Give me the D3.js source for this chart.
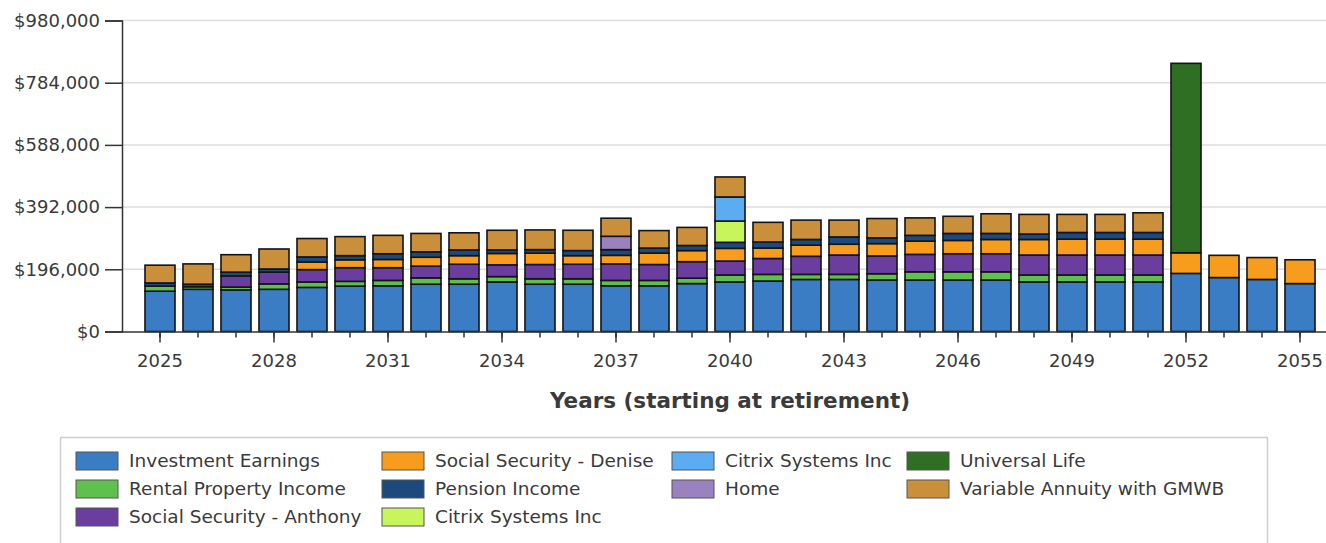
<!DOCTYPE html>
<html>
<head>
<meta charset="utf-8">
<script src="https://cdn.jsdelivr.net/npm/d3@7"></script>
<style>
  html, body { margin: 0; padding: 0; background: #fff; }
  svg { display: block; }
  text { font-family: "DejaVu Sans", "Open Sans", sans-serif; }
</style>
</head>
<body>
<svg id="chart" width="1326" height="543"></svg>
<script>
const years = d3.range(2025, 2056);
const yTicks = [0, 196000, 392000, 588000, 784000, 980000];
const xTickYears = [2025, 2028, 2031, 2034, 2037, 2040, 2043, 2046, 2049, 2052, 2055];
const xAxisTitle = "Years (starting at retirement)";

const seriesNames = [
  "Investment Earnings", "Rental Property Income", "Social Security - Anthony",
  "Social Security - Denise", "Pension Income", "Citrix Systems Inc (lime)",
  "Citrix Systems Inc (blue)", "Home", "Universal Life", "Variable Annuity with GMWB"
];
const legendLabels = [
  "Investment Earnings", "Rental Property Income", "Social Security - Anthony",
  "Social Security - Denise", "Pension Income", "Citrix Systems Inc",
  "Citrix Systems Inc", "Home", "Universal Life", "Variable Annuity with GMWB"
];
const seriesColors = [
  "#3b7dc4", "#5fbf4f", "#6a3d9e", "#f79c1c", "#1d4a7c",
  "#c8f55c", "#5cacf2", "#9a82bf", "#2f6f24", "#c98f3a"
];

// values in thousands of dollars, 2025..2055
const investmentEarnings = [127,133,131,133,139,143,144,149,149,156,149,149,144,144,151,156,159,164,164,162,162,162,162,156,156,156,156,183,170,164,151];
const rentalProperty     = [16,8,9,17,17,15,17,20,17,17,17,17,17,17,17,22,21,16,16,20,26,26,26,22,22,22,22,0,0,0,0];
const ssAnthony          = [0,0,35,37,39,43,40,37,46,37,45,46,52,50,52,44,50,57,61,56,55,57,57,63,63,63,63,0,0,0,0];
const ssDenise           = [0,0,0,0,24,25,26,28,27,36,36,27,27,36,35,40,33,35,34,39,42,42,45,49,50,50,50,65,70,69,75];
const pensionIncome      = [10,8,12,10,16,13,18,17,18,11,11,16,18,16,16,19,19,18,23,18,18,22,19,17,21,21,21,0,0,0,0];
const citrixLime         = [0,0,0,0,0,0,0,0,0,0,0,0,0,0,0,67,0,0,0,0,0,0,0,0,0,0,0,0,0,0,0];
const citrixBlue         = [0,0,0,0,0,0,0,0,0,0,0,0,0,0,0,76,0,0,0,0,0,0,0,0,0,0,0,0,0,0,0];
const home               = [0,0,0,0,0,0,0,0,0,0,0,0,42,0,0,0,0,0,0,0,0,0,0,0,0,0,0,0,0,0,0];
const universalLife      = [0,0,0,0,0,0,0,0,0,0,0,0,0,0,0,0,0,0,0,0,0,0,0,0,0,0,0,597,0,0,0];
const variableAnnuity    = [56,64,55,63,58,60,58,58,54,62,62,64,57,55,57,63,62,61,53,61,55,54,62,62,57,57,62,0,0,0,0];

const seriesValues = [investmentEarnings, rentalProperty, ssAnthony, ssDenise, pensionIncome,
  citrixLime, citrixBlue, home, universalLife, variableAnnuity];

const table = years.map((yr, i) => {
  const row = { year: yr };
  seriesNames.forEach((n, k) => row[n] = seriesValues[k][i] * 1000);
  return row;
});

const svg = d3.select("#chart");
const mLeft = 122, mBottom = 331.5, mTop = 20.5;
const step = 38;
const mRight = mLeft + step * 32;

const x = d3.scaleBand().domain(years).range([mLeft, mRight]).paddingInner(0.21).paddingOuter(0.605);
const y = d3.scaleLinear().domain([0, 980000]).range([mBottom, mTop]);

// gridlines
svg.append("g").selectAll("line").data(yTicks.slice(1)).join("line")
  .attr("x1", mLeft).attr("x2", 1326)
  .attr("y1", d => y(d)).attr("y2", d => y(d))
  .attr("stroke", "#dedede").attr("stroke-width", 1.5);

// bars
const stack = d3.stack().keys(seriesNames);
const layers = stack(table);
svg.append("g").selectAll("g").data(layers).join("g")
  .attr("fill", (d, i) => seriesColors[i])
  .selectAll("rect").data(d => d.filter(s => s[1] - s[0] > 0)).join("rect")
  .attr("x", d => x(d.data.year))
  .attr("width", x.bandwidth())
  .attr("y", d => y(d[1]))
  .attr("height", d => y(d[0]) - y(d[1]))
  .attr("stroke", "#141414").attr("stroke-width", 1.6);

// y axis
const yAxis = d3.axisLeft(y).tickValues(yTicks).tickSize(17).tickPadding(5)
  .tickFormat(d => "$" + d3.format(",")(d));
const gy = svg.append("g").attr("transform", `translate(${mLeft},0)`).call(yAxis);
gy.select(".domain").attr("stroke", "#333").attr("stroke-width", 1.5);
gy.selectAll(".tick line").attr("stroke", "#333").attr("stroke-width", 1.5);
gy.selectAll("text").attr("font-size", 18).attr("fill", "#3a3a3a");

// x axis minor
const gxMinor = svg.append("g").attr("transform", `translate(0,${mBottom})`)
  .call(d3.axisBottom(x).tickSize(6).tickFormat(""));
gxMinor.select(".domain").attr("stroke", "#333").attr("stroke-width", 1.5)
  .attr("d", `M${mLeft},0.5H1326`);
gxMinor.selectAll(".tick line").attr("stroke", "#333").attr("stroke-width", 1.5);

// x axis major
const gxMajor = svg.append("g").attr("transform", `translate(0,${mBottom})`)
  .call(d3.axisBottom(x).tickValues(xTickYears).tickSize(11).tickPadding(12));
gxMajor.select(".domain").remove();
gxMajor.selectAll(".tick line").attr("stroke", "#333").attr("stroke-width", 1.5);
gxMajor.selectAll("text").attr("font-size", 18).attr("fill", "#3a3a3a");

// x title
svg.append("text").attr("x", (mLeft + mRight) / 2).attr("y", 408)
  .attr("text-anchor", "middle").attr("font-size", 21.5).attr("font-weight", "bold")
  .attr("fill", "#3a3a3a").text(xAxisTitle);

// legend
svg.append("rect").attr("x", 60.5).attr("y", 437.5).attr("width", 1207).attr("height", 120)
  .attr("fill", "none").attr("stroke", "#cfcfcf").attr("stroke-width", 1.5);

const legendColX = [76, 382, 672, 907];
const legendRowY = [461, 489, 517];
const legendOrder = [
  [0, 0, 0], [1, 0, 1], [2, 0, 2],
  [3, 1, 0], [4, 1, 1], [5, 1, 2],
  [6, 2, 0], [7, 2, 1],
  [8, 3, 0], [9, 3, 1]
];
const lg = svg.append("g").selectAll("g").data(legendOrder).join("g")
  .attr("transform", d => `translate(${legendColX[d[1]]},${legendRowY[d[2]]})`);
lg.append("rect").attr("x", 0).attr("y", -9).attr("width", 42).attr("height", 18)
  .attr("fill", d => seriesColors[d[0]]).attr("stroke", "#555").attr("stroke-width", 1);
lg.append("text").attr("x", 53).attr("y", 0).attr("dy", "0.35em")
  .attr("font-size", 18.5).attr("fill", "#3a3a3a").text(d => legendLabels[d[0]]);
</script>
</body>
</html>
